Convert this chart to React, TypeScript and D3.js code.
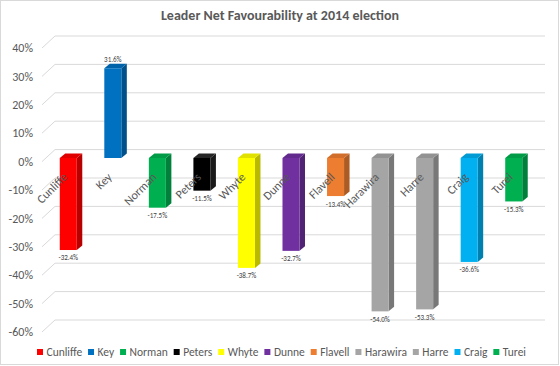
import React from "react";
import * as d3 from "d3";

const leaders = ["Cunliffe", "Key", "Norman", "Peters", "Whyte", "Dunne", "Flavell", "Harawira", "Harre", "Craig", "Turei"];
const values = [-32.4, 31.6, -17.5, -11.5, -38.7, -32.7, -13.4, -54.0, -53.3, -36.6, -15.3];
const colors = ["#FF0000", "#0070C0", "#00B050", "#000000", "#FFFF00", "#7030A0", "#ED7D31", "#A5A5A5", "#A5A5A5", "#00B0F0", "#00B050"];
const yTicks = [40, 30, 20, 10, 0, -10, -20, -30, -40, -50, -60];

const W = 560;
const H = 366;
const FONT = "Carlito, Calibri, Lato, 'Open Sans', sans-serif";
const TXT = "#595959";

function measure(text: string, font: string): number {
  const c = document.createElement("canvas").getContext("2d");
  if (!c) return text.length * 6;
  c.font = font;
  return c.measureText(text).width;
}

export default function App() {
  // back wall scale
  const yBack = d3.scaleLinear().domain([-60, 40]).range([320, 36]);
  const wallX0 = 55;
  const wallX1 = 545;
  const floorDx = 13;
  const floorDy = 12;
  // front plane of bars
  const frontDx = -9;
  const frontDy = 8.4;
  const yFront = (v: number) => yBack(v) + frontDy;
  const x = d3
    .scaleBand<string>()
    .domain(leaders)
    .range([wallX0 + frontDx, wallX1 + frontDx])
    .paddingInner(0.618)
    .paddingOuter(0.309);
  const bw = x.bandwidth();
  const dx = 5.5;
  const dy = 4.5;

  // legend layout
  const legSize = 11.5;
  const legFont = `${legSize}px ${FONT}`;
  const sq = 6;
  const gapSqText = 3.5;
  const legStart = 37;
  const legEnd = 526;
  const textW = leaders.map((l) => measure(l, legFont));
  const widths = textW.map((w) => sq + gapSqText + w);
  const gapItems = (legEnd - legStart - d3.sum(widths)) / (leaders.length - 1);
  let cursor = legStart;
  const legendPos = widths.map((w) => {
    const p = cursor;
    cursor += w + gapItems;
    return p;
  });
  const legY = 352;

  return (
    <svg width={W} height={H} style={{ position: "absolute", left: 0, top: 0, background: "#fff" }} fontFamily={FONT}>
      <rect x={0.5} y={0.5} width={558} height={364} fill="#fff" stroke="#D9D9D9" />
      <text x={280} y={20} textAnchor="middle" fontSize={14} fontWeight="bold" fill={TXT}>
        Leader Net Favourability at 2014 election
      </text>
      {/* gridlines */}
      {yTicks.map((t) => (
        <g key={t}>
          <line x1={wallX0} x2={wallX1} y1={yBack(t)} y2={yBack(t)} stroke="#D9D9D9" strokeWidth={1} />
          <line x1={wallX0 - floorDx} x2={wallX0} y1={yBack(t) + floorDy} y2={yBack(t)} stroke="#D9D9D9" strokeWidth={1} />
          <text x={33} y={yBack(t) + floorDy} dy="0.35em" textAnchor="end" fontSize={12} fill={TXT}>
            {t}%
          </text>
        </g>
      ))}
      {/* bars */}
      {leaders.map((l, i) => {
        const v = values[i];
        const x0 = x(l)!;
        const x1 = x0 + bw;
        const yTop = Math.min(yFront(v), yFront(0));
        const yBot = Math.max(yFront(v), yFront(0));
        const c = d3.color(colors[i])!;
        const side = colors[i] === "#000000" ? "#1a1a1a" : c.darker(0.9).formatHex();
        const top = colors[i] === "#000000" ? "#262626" : c.darker(0.35).formatHex();
        const cx = x0 + bw / 2;
        const label = `${v.toFixed(1)}%`;
        return (
          <g key={l}>
            <polygon
              points={`${x1},${yTop} ${x1 + dx},${yTop - dy} ${x1 + dx},${yBot - dy} ${x1},${yBot}`}
              fill={side}
            />
            <polygon
              points={`${x0},${yTop} ${x0 + dx},${yTop - dy} ${x1 + dx},${yTop - dy} ${x1},${yTop}`}
              fill={top}
            />
            <rect x={x0} y={yTop} width={bw} height={yBot - yTop} fill={colors[i]} />
            <text
              x={cx}
              y={v < 0 ? yBot + 8 : yTop - dy - 4}
              dy="0.35em"
              textAnchor="middle"
              fontSize={7}
              fill="#404040"
            >
              {label}
            </text>
          </g>
        );
      })}
      {/* category labels */}
      {leaders.map((l) => {
        const cx = x(l)! + bw / 2;
        const ax = cx - 3;
        const ay = 175;
        return (
          <text
            key={l}
            x={ax}
            y={ay}
            transform={`rotate(-45 ${ax} ${ay})`}
            textAnchor="end"
            dominantBaseline="central"
            fontSize={12}
            fill={TXT}
          >
            {l}
          </text>
        );
      })}
      {/* legend */}
      {leaders.map((l, i) => (
        <g key={l}>
          <rect x={legendPos[i]} y={legY - sq / 2} width={sq} height={sq} fill={colors[i]} />
          <text x={legendPos[i] + sq + gapSqText} y={legY} dy="0.35em" fontSize={legSize} fill={TXT}>
            {l}
          </text>
        </g>
      ))}
    </svg>
  );
}
